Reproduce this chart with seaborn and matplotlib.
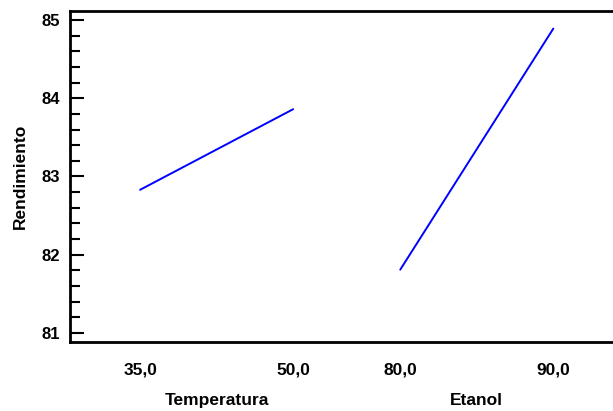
import matplotlib
matplotlib.use("Agg")
import matplotlib.pyplot as plt
from matplotlib.ticker import MultipleLocator, FixedLocator
import seaborn as sns
import pandas as pd

# Data (main effects for Rendimiento)
factors = ["Temperatura", "Etanol"]
temp_levels = [35.0, 50.0]
temp_effect = [82.83, 83.86]
etanol_levels = [80.0, 90.0]
etanol_effect = [81.81, 84.89]
tick_labels = ["35,0", "50,0", "80,0", "90,0"]

sns.set_style("white")
plt.rcParams['font.family'] = ['Liberation Sans', 'DejaVu Sans']
plt.rcParams['text.color'] = 'black'
plt.rcParams['axes.labelcolor'] = 'black'
plt.rcParams['xtick.color'] = 'black'
plt.rcParams['ytick.color'] = 'black'

# position of each factor's panel along the shared x axis
offsets = [0.0, 1.7]

def to_pos(vals, levels, off):
    lo, hi = levels
    return [off + (v - lo) / (hi - lo) for v in vals]

rows = []
for name, lev, eff, off in [(factors[0], temp_levels, temp_effect, offsets[0]),
                            (factors[1], etanol_levels, etanol_effect, offsets[1])]:
    for x, y in zip(to_pos(lev, lev, off), eff):
        rows.append({"factor": name, "pos": x, "Rendimiento": y})
df = pd.DataFrame(rows)

fig = plt.figure(figsize=(6.13, 4.11), dpi=100)
ax = fig.add_axes([70/613, 1 - 342/411, 1 - 70/613, (342 - 11)/411])

sns.lineplot(data=df, x="pos", y="Rendimiento", units="factor", estimator=None,
             color="#0000ff", linewidth=1.4, ax=ax, legend=False)

ax.set_ylim(80.885, 85.115)
ax.set_xlim(-0.458, 3.09)

ax.yaxis.set_major_locator(MultipleLocator(1))
ax.yaxis.set_minor_locator(MultipleLocator(0.2))
ax.tick_params(axis="y", which="major", direction="in", length=10, width=1.5,
               labelsize=12, pad=7, left=True)
ax.tick_params(axis="y", which="minor", direction="in", length=7, width=1.5, left=True)
for t in ax.get_yticklabels():
    t.set_fontweight("bold")

ticks_pos = to_pos(temp_levels, temp_levels, offsets[0]) + to_pos(etanol_levels, etanol_levels, offsets[1])
ax.xaxis.set_major_locator(FixedLocator(ticks_pos))
ax.set_xticklabels(tick_labels, fontweight="bold", fontsize=12.5)
ax.tick_params(axis="x", which="both", length=0, pad=15)

ax.set_xlabel("")
ax.set_ylabel("Rendimiento", fontweight="bold", fontsize=12.5, labelpad=10)

for side in ["left", "bottom", "top"]:
    ax.spines[side].set_linewidth(2)
    ax.spines[side].set_color("black")
ax.spines["right"].set_visible(False)

# factor names under each panel
for name, off in zip(factors, offsets):
    ax.text(off + 0.5, -0.178, name, transform=ax.get_xaxis_transform(),
            ha="center", va="center", fontweight="bold", fontsize=12.5)

fig.savefig("out.png", dpi=100)
